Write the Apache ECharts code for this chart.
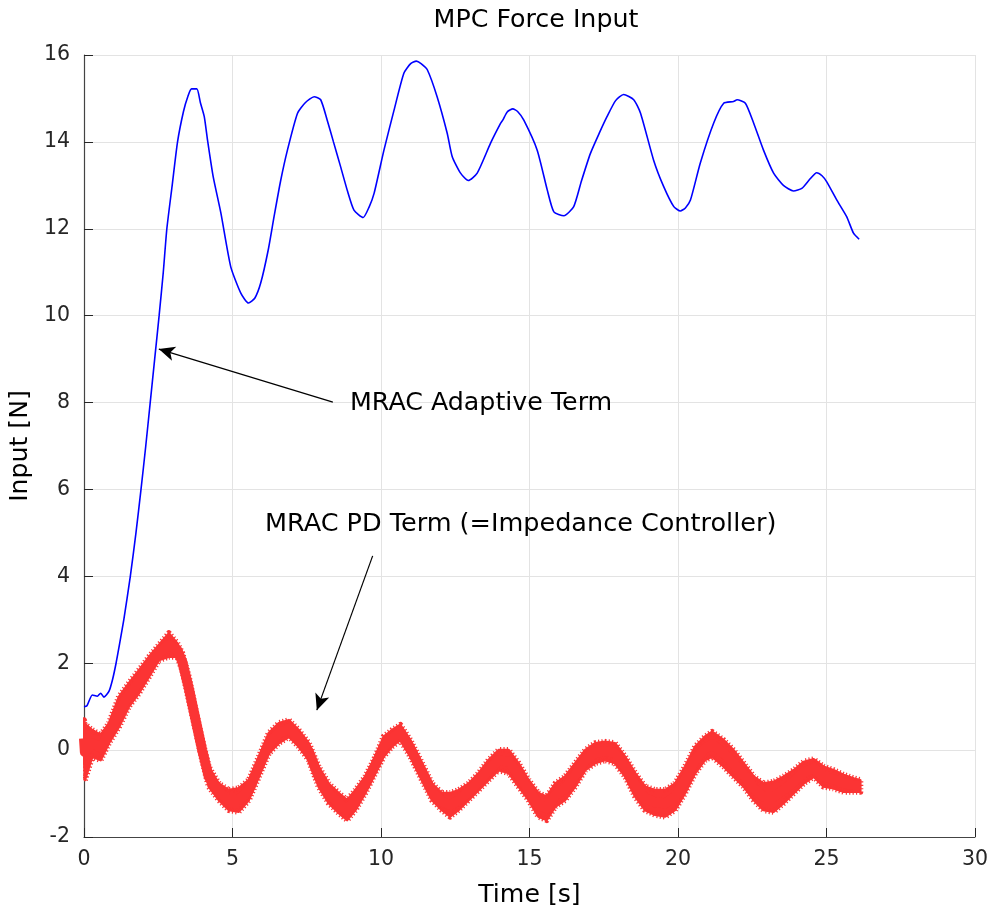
<!DOCTYPE html>
<html>
<head>
<meta charset="utf-8">
<script src="https://cdn.jsdelivr.net/npm/echarts@6/dist/echarts.min.js"></script>
<style>
html,body{margin:0;padding:0;background:#fff;}
#chart{width:991px;height:913px;}
</style>
</head>
<body>
<div id="chart"></div>
<script>
// ---- Data ----
const titleText = 'MPC Force Input';
const xLabel = 'Time [s]';
const yLabel = 'Input [N]';
const adaptiveLabel = 'MRAC Adaptive Term';
const pdLabel = 'MRAC PD Term (=Impedance Controller)';

// Blue: MRAC adaptive term (time, value)
const blueT = [0,0.1,0.28,0.45,0.56,0.67,0.84,0.96,1.08,1.2,1.34,1.56,1.75,1.92,2.08,2.23,2.38,2.53,2.67,2.79,2.97,3.15,3.35,3.5,3.62,3.8,3.92,4.05,4.16,4.35,4.61,4.94,5.28,5.54,5.75,5.95,6.2,6.4,6.62,6.85,7.19,7.45,7.75,7.97,8.19,8.4,8.64,8.88,9.09,9.4,9.6,9.77,10.1,10.44,10.77,11.0,11.19,11.35,11.56,11.89,12.23,12.4,12.68,12.94,13.24,13.69,14.03,14.1,14.25,14.44,14.6,14.81,15.26,15.6,15.82,16.16,16.49,16.75,17.05,17.35,17.61,17.9,18.17,18.51,18.74,19.18,19.52,19.86,20.08,20.25,20.42,20.75,21.2,21.54,21.87,21.99,22.27,22.55,22.88,23.22,23.55,23.89,24.17,24.45,24.67,24.85,25.01,25.35,25.68,25.91,26.1];
const blueV = [1.0,1.02,1.27,1.24,1.31,1.22,1.35,1.62,2.0,2.45,3.0,4.0,5.0,6.0,7.0,8.0,9.0,10.0,11.0,12.0,13.0,14.0,14.7,15.05,15.22,15.22,14.9,14.58,14.04,13.2,12.36,11.13,10.52,10.29,10.4,10.75,11.5,12.28,13.1,13.81,14.66,14.9,15.04,14.97,14.5,14.0,13.43,12.85,12.43,12.26,12.5,12.82,13.81,14.73,15.58,15.8,15.86,15.8,15.66,15.04,14.2,13.66,13.28,13.11,13.28,13.97,14.43,14.5,14.69,14.76,14.7,14.5,13.81,12.89,12.39,12.3,12.51,13.1,13.73,14.2,14.58,14.95,15.09,14.97,14.66,13.58,12.97,12.51,12.41,12.48,12.66,13.51,14.43,14.89,14.93,14.97,14.89,14.43,13.81,13.28,13.0,12.87,12.93,13.15,13.29,13.22,13.08,12.66,12.28,11.9,11.76];

// Red: MRAC PD term, noisy band (time, upper edge, lower edge)
const redT = [0,0.03,0.28,0.56,0.84,1.18,1.51,1.85,2.19,2.52,2.86,3.14,3.31,3.53,3.76,3.98,4.2,4.54,4.88,5.21,5.55,5.89,6.22,6.56,6.9,7.23,7.57,7.9,8.24,8.58,8.86,9.14,9.47,9.81,10.09,10.37,10.65,10.99,11.38,11.72,12.05,12.33,12.61,12.95,13.29,13.62,13.96,14.3,14.63,14.97,15.3,15.58,15.87,16.2,16.54,16.88,17.21,17.55,17.88,18.22,18.56,18.89,19.23,19.57,19.9,20.24,20.58,20.91,21.15,21.54,21.87,22.21,22.55,22.88,23.22,23.56,23.9,24.23,24.57,24.9,25.24,25.58,25.92,26.14];
const redUpper = [0.69,0.6,0.46,0.35,0.62,1.23,1.54,1.84,2.15,2.42,2.69,2.46,2.23,1.69,0.92,0.23,-0.38,-0.77,-0.92,-0.88,-0.69,-0.15,0.39,0.62,0.69,0.46,0.16,-0.38,-0.77,-0.99,-1.15,-0.92,-0.61,-0.15,0.31,0.46,0.58,0.23,-0.3,-0.77,-0.99,-0.99,-0.92,-0.77,-0.53,-0.23,0.0,0.0,-0.3,-0.69,-0.99,-1.07,-0.77,-0.61,-0.3,0.0,0.16,0.19,0.16,-0.15,-0.53,-0.84,-0.92,-0.92,-0.77,-0.38,0.08,0.31,0.42,0.23,0.0,-0.3,-0.61,-0.77,-0.73,-0.61,-0.46,-0.27,-0.21,-0.38,-0.46,-0.57,-0.65,-0.69];
const redLower = [-0.15,-0.69,-0.15,-0.23,0.16,0.54,1.0,1.31,1.69,2.07,2.15,2.15,1.84,1.15,0.46,-0.23,-0.84,-1.15,-1.38,-1.42,-1.15,-0.61,-0.08,0.16,0.31,0.08,-0.23,-0.84,-1.22,-1.45,-1.61,-1.38,-0.99,-0.53,-0.15,0.08,0.23,-0.15,-0.69,-1.15,-1.38,-1.53,-1.38,-1.15,-0.92,-0.69,-0.46,-0.53,-0.84,-1.15,-1.53,-1.61,-1.3,-1.15,-0.84,-0.46,-0.3,-0.23,-0.3,-0.61,-1.07,-1.38,-1.49,-1.53,-1.38,-0.99,-0.53,-0.23,-0.15,-0.38,-0.61,-0.84,-1.15,-1.38,-1.42,-1.22,-0.99,-0.77,-0.61,-0.84,-0.88,-0.96,-0.96,-0.96];

const xTicks = [0,5,10,15,20,25,30];
const yTicks = [-2,0,2,4,6,8,10,12,14,16];

// ---- Chart ----
const FONT = 'DejaVu Sans';
const RED = '#fb3434';
const chart = echarts.init(document.getElementById('chart'), null, {renderer:'canvas'});
const blueData = blueT.map((t,i)=>[t, blueV[i]]);
const redMid = redT.map((t,i)=>[t, (redUpper[i]+redLower[i])/2]);

const option = {
  animation:false,
  backgroundColor:'#ffffff',
  title:{text:titleText,left:531,top:3,textAlign:'center',
    textStyle:{fontFamily:FONT,fontSize:25.3,fontWeight:'normal',color:'#000'}},
  grid:{left:83,right:16,top:55,bottom:76},
  xAxis:{type:'value',min:xTicks[0],max:xTicks[xTicks.length-1],interval:5,
    name:xLabel,nameLocation:'middle',nameGap:46,
    nameTextStyle:{fontFamily:FONT,fontSize:25.2,color:'#000'},
    axisLine:{show:true,onZero:false,lineStyle:{color:'#444',width:1.2}},
    axisTick:{show:true,inside:true,length:9,lineStyle:{color:'#262626'}},
    axisLabel:{fontFamily:FONT,fontSize:20.5,color:'#262626',margin:12},
    splitLine:{show:true,lineStyle:{color:'#e3e3e3',width:1}}},
  yAxis:{type:'value',min:yTicks[0],max:yTicks[yTicks.length-1],interval:2,
    name:yLabel,nameLocation:'middle',nameGap:42,
    nameTextStyle:{fontFamily:FONT,fontSize:25.2,color:'#000'},
    axisLine:{show:true,onZero:false,lineStyle:{color:'#444',width:1.2}},
    axisTick:{show:true,inside:true,length:9,lineStyle:{color:'#262626'}},
    axisLabel:{fontFamily:FONT,fontSize:20.5,color:'#262626',margin:14},
    splitLine:{show:true,lineStyle:{color:'#e3e3e3',width:1}}},
  series:[
    {
      type:'custom',
      name:'PD band',
      clip:true,
      data:[[0,0]],
      encode:{x:0,y:0},
      renderItem:function(params, api){
        const pts = [];
        for(let i=0;i<redT.length;i++) pts.push(api.coord([redT[i], redUpper[i]]));
        for(let i=redT.length-1;i>=0;i--) pts.push(api.coord([redT[i], redLower[i]]));
        return {type:'group',children:[
          {type:'polygon',shape:{points:pts},
            style:{fill:RED,stroke:RED,lineWidth:2.5,lineJoin:'round'}},
          {type:'polygon',shape:{points:pts},
            style:{fill:'none',stroke:RED,lineWidth:6,lineDash:[1.2,2.2],lineJoin:'round'}}
        ]};
      },
      z:2
    },
    {
      type:'line',
      name:'PD',
      data:redMid,
      showSymbol:false,
      lineStyle:{color:RED,width:10,join:'round',cap:'butt'},
      z:2
    },
    {
      type:'line',
      name:'Adaptive',
      data:blueData,
      showSymbol:false,
      smooth:0.2,
      lineStyle:{color:'#0000ff',width:1.6},
      z:3,
      markLine:{
        silent:true,
        symbol:['none','arrow'],
        symbolSize:[11,16],
        label:{show:false},
        lineStyle:{color:'#000',width:1.2,type:'solid'},
        itemStyle:{color:'#000'},
        data:[
          [{coord:[8.38,8.01]},{coord:[2.52,9.23]}],
          [{coord:[9.72,4.47]},{coord:[7.84,0.92]}]
        ]
      }
    }
  ],
  graphic:[
    {type:'text',x:350,y:403,z:100,style:{text:adaptiveLabel,fontFamily:FONT,fontSize:25.3,fill:'#000',verticalAlign:'middle'}},
    {type:'text',x:265,y:524,z:100,style:{text:pdLabel,fontFamily:FONT,fontSize:25.5,fill:'#000',verticalAlign:'middle'}}
  ]
};
chart.setOption(option);
</script>
</body>
</html>
